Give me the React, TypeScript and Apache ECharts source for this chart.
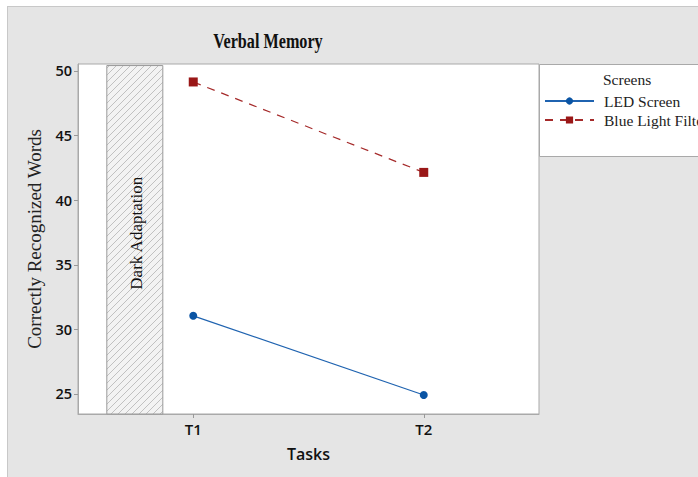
import React, { useEffect, useRef } from "react";
import * as echarts from "echarts";

const taskNames = ["T1", "T2"];
const taskPositions = [1, 2];
const ledScreen = [31.05, 24.92];
const blueLightFilter = [49.15, 42.15];
const yTicks = [25, 30, 35, 40, 45, 50];
const yMin = 23.45;
const yMax = 50.54;
const xMin = 0.5;
const xMax = 2.5;
const darkAdaptStart = 0.625;
const darkAdaptEnd = 0.868;
const darkAdaptTop = 50.42;

function makeHatch(): HTMLCanvasElement {
  const c = document.createElement("canvas");
  c.width = 7;
  c.height = 7;
  const ctx = c.getContext("2d")!;
  ctx.fillStyle = "#f3f3f3";
  ctx.fillRect(0, 0, 7, 7);
  ctx.strokeStyle = "#b4b4b4";
  ctx.lineWidth = 0.8;
  ctx.beginPath();
  ctx.moveTo(-1, 8);
  ctx.lineTo(8, -1);
  ctx.moveTo(-8, 8);
  ctx.lineTo(1, -1);
  ctx.moveTo(6, 8);
  ctx.lineTo(15, -1);
  ctx.stroke();
  return c;
}

export default function App() {
  const ref = useRef<HTMLDivElement>(null);
  useEffect(() => {
    if (!ref.current) return;
    const chart = echarts.init(ref.current, undefined, { renderer: "svg" });
    const serif = "'Liberation Serif', 'Times New Roman', serif";
    const sans = "'Open Sans', 'Noto Sans', sans-serif";
    chart.setOption({
      animation: false,
      backgroundColor: "transparent",
      grid: {
        left: 78,
        top: 64,
        width: 461,
        height: 350,
        show: true,
        backgroundColor: "#ffffff",
        borderColor: "#a9a9a9",
        borderWidth: 1,
      },
      legend: {
        orient: "vertical",
        left: 544,
        top: 93,
        padding: 0,
        itemWidth: 49,
        itemHeight: 9,
        itemGap: 3,
        data: ["LED Screen", "Blue Light Filter"],
        textStyle: {
          fontFamily: serif,
          fontSize: 15.5,
          color: "#222",
          lineHeight: 16,
          padding: [0, 0, 0, 5],
        },
      },
      graphic: [
        {
          type: "text",
          x: 268,
          y: 41,
          scaleX: 0.77,
          style: {
            text: "Verbal Memory",
            fontFamily: serif,
            fontSize: 21,
            fontWeight: "bold",
            fill: "#111",
            textAlign: "center",
            verticalAlign: "middle",
          },
          z: 5,
        },
        {
          type: "rect",
          shape: { x: 539.5, y: 64.5, width: 170, height: 92 },
          style: { fill: "#ffffff", stroke: "#a9a9a9", lineWidth: 1 },
          z: 0,
        },
        {
          type: "text",
          x: 603,
          y: 79,
          style: {
            text: "Screens",
            fontFamily: serif,
            fontSize: 15.5,
            fill: "#222",
            verticalAlign: "middle",
          },
          z: 5,
        },
      ],
      xAxis: {
        type: "value",
        min: xMin,
        max: xMax,
        name: "Tasks",
        nameLocation: "middle",
        nameGap: 32,
        nameTextStyle: { fontFamily: sans, fontSize: 16, fontWeight: 600, color: "#111" },
        axisLine: { show: true, lineStyle: { color: "#a9a9a9" } },
        axisTick: {
          show: true,
          customValues: taskPositions,
          length: 4,
          lineStyle: { color: "#999" },
        },
        axisLabel: {
          customValues: taskPositions,
          formatter: (v: number) => taskNames[taskPositions.indexOf(v)] ?? "",
          fontFamily: sans,
          fontSize: 15,
          fontWeight: 600,
          color: "#111",
          margin: 7,
        },
        splitLine: { show: false },
      },
      yAxis: {
        type: "value",
        min: yMin,
        max: yMax,
        name: "Correctly Recognized Words",
        nameLocation: "middle",
        nameGap: 34,
        nameTextStyle: { fontFamily: serif, fontSize: 19, color: "#222" },
        axisLine: { show: true, lineStyle: { color: "#a9a9a9" } },
        axisTick: {
          show: true,
          customValues: yTicks,
          length: 4,
          lineStyle: { color: "#999" },
        },
        axisLabel: {
          customValues: yTicks,
          fontFamily: sans,
          fontSize: 14.5,
          fontWeight: 600,
          color: "#111",
          margin: 6,
        },
        splitLine: { show: false },
      },
      series: [
        {
          name: "LED Screen",
          type: "line",
          data: taskPositions.map((x, i) => [x, ledScreen[i]]),
          symbol: "circle",
          symbolSize: 8,
          itemStyle: { color: "#0a54a4" },
          lineStyle: { color: "#1f63b0", width: 1.2, type: "solid" },
          markArea: {
            silent: true,
            itemStyle: {
              color: { image: makeHatch(), repeat: "repeat" },
              borderColor: "#999",
              borderWidth: 1,
            },
            label: {
              show: true,
              position: "inside",
              rotate: 90,
              formatter: "Dark Adaptation",
              fontFamily: serif,
              fontSize: 17,
              color: "#111",
              offset: [6.5, 2],
            },
            data: [
              [
                { coord: [darkAdaptStart, yMin] },
                { coord: [darkAdaptEnd, darkAdaptTop] },
              ],
            ],
          },
        },
        {
          name: "Blue Light Filter",
          type: "line",
          data: taskPositions.map((x, i) => [x, blueLightFilter[i]]),
          symbol: "rect",
          symbolSize: 9,
          itemStyle: { color: "#9a1717" },
          lineStyle: { color: "#a52a2a", width: 1.2, type: [8, 7] },
        },
      ],
    });
    return () => chart.dispose();
  }, []);
  return (
    <div style={{ position: "fixed", left: 0, top: 0, width: 698, height: 477, background: "#ffffff" }}>
      <div
        style={{
          position: "absolute",
          left: 7,
          top: 6,
          right: 0,
          bottom: 0,
          background: "#e5e5e5",
          borderLeft: "1px solid #c8c8c8",
          borderTop: "1px solid #c8c8c8",
        }}
      />
      <div ref={ref} style={{ position: "absolute", left: 0, top: 0, width: 698, height: 477 }} />
    </div>
  );
}
